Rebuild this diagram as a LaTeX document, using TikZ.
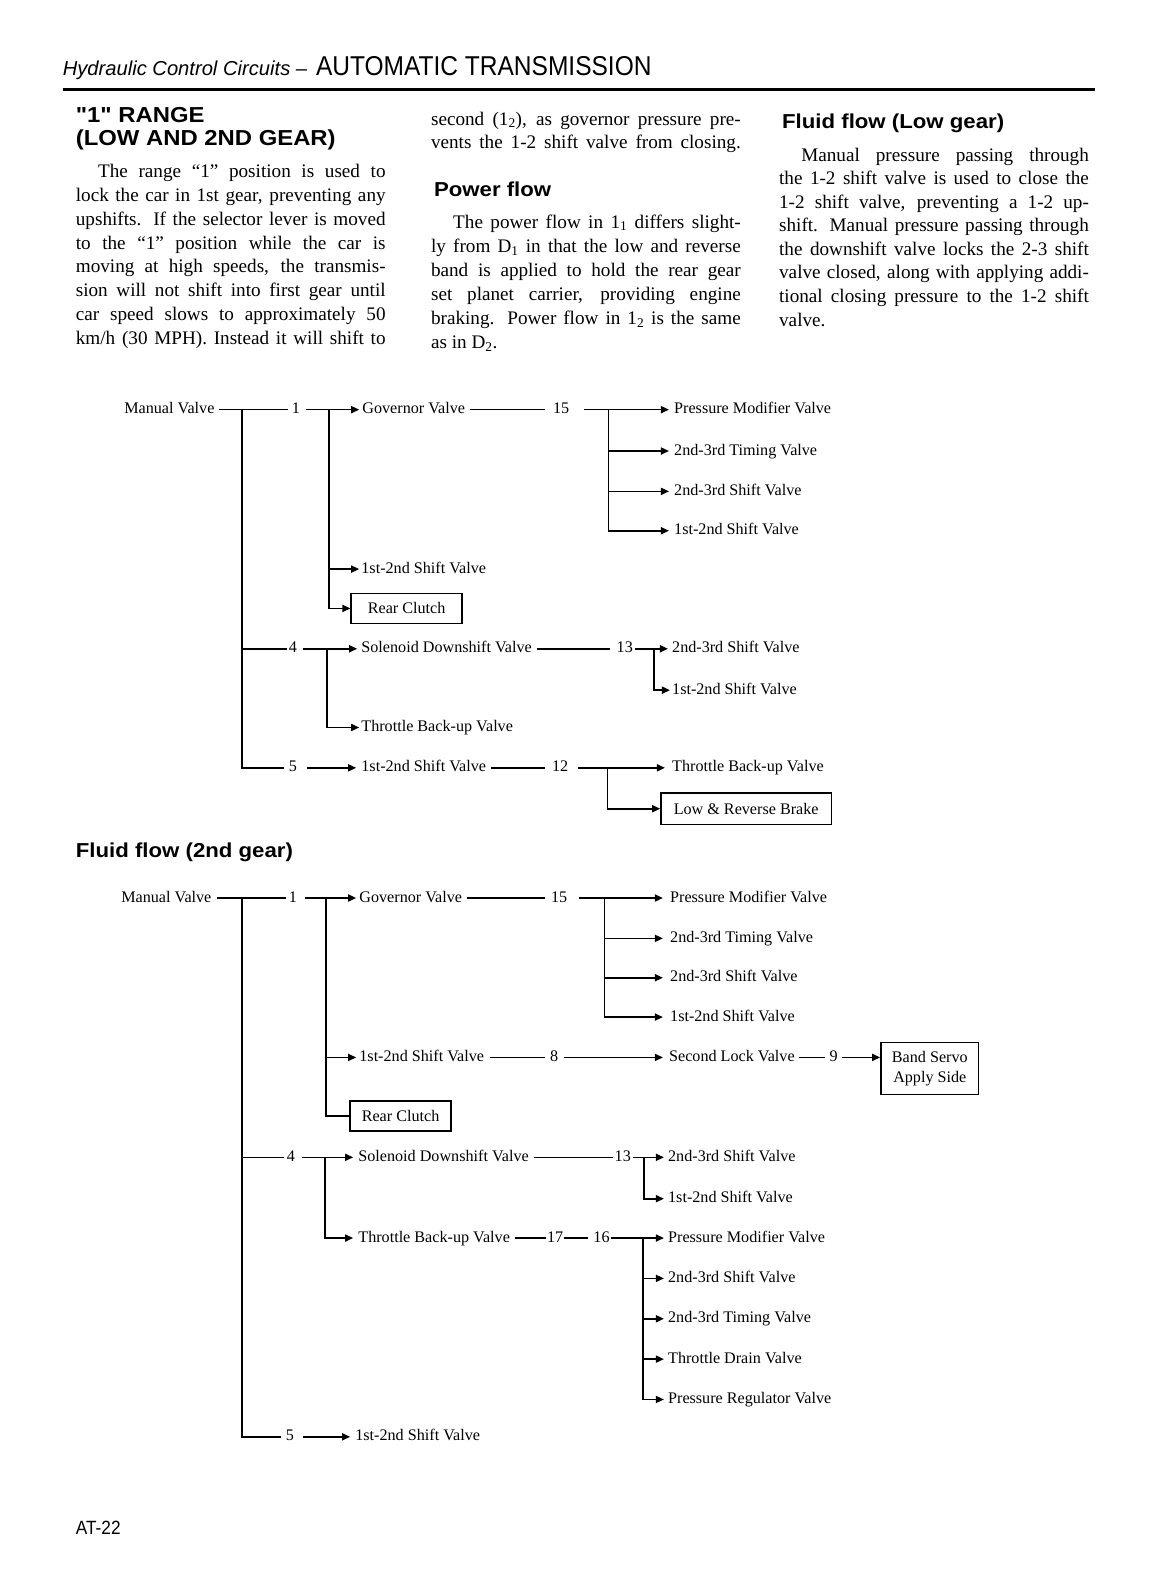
\documentclass[tikz,border=0pt]{standalone}
\usepackage{fontspec}
\setmainfont{Liberation Serif}
\newfontfamily\sansf{Liberation Sans}
\newfontfamily\headf[FakeStretch=1.1]{Liberation Sans}
\newfontfamily\condf[FakeStretch=0.9]{Liberation Sans}
\usetikzlibrary{arrows.meta}
\newcommand\jl[1]{\hbox to 307pt{#1}}
\newcommand\jli[1]{\hbox to 307pt{\hskip22pt #1}}
\newcommand\lastl[1]{\hbox{#1}}
\newcommand\sub[1]{\textsubscript{#1}}
\tikzset{
  dl/.style={font=\fontsize{16}{18}\selectfont, inner sep=0pt, text height=11pt, text depth=3pt, anchor=west},
  ln/.style={line width=1.6pt},
  arr/.style={line width=1.6pt, -{Triangle[length=8pt,width=7pt]}},
  bx/.style={draw, line width=1.4pt, inner sep=3pt, font=\fontsize{16}{19}\selectfont, align=center},
  body/.style={font=\fontsize{19}{23.6}\selectfont, inner sep=0pt, anchor=base west},
  hd/.style={font=\headf\bfseries\fontsize{20}{24}\selectfont, inner sep=0pt, anchor=base west},
}
\begin{document}
\begin{tikzpicture}[x=1pt,y=-1pt]
\useasboundingbox (0,0) rectangle (1155.6,1567.9);
\fill[white] (0,0) rectangle (1155.6,1567.9);

% ---------- page header ----------
\node[inner sep=0pt, anchor=base west, font=\sansf\itshape\fontsize{20}{24}\selectfont] (hdA) at (62,75) {Hydraulic Control Circuits –};
\node[inner sep=0pt, anchor=base west, font=\condf\fontsize{27}{30}\selectfont] (hdB) at (313,75) {AUTOMATIC TRANSMISSION};
\draw[line width=3pt] (62,89) -- (1085,89);

% ---------- column 1 ----------
\node[hd, font=\headf\bfseries\fontsize{21.5}{24}\selectfont] (h1a) at (75,121) {"1" RANGE};
\node[hd, font=\headf\bfseries\fontsize{21.5}{24}\selectfont] (h1b) at (75,144) {(LOW AND 2ND GEAR)};
\node[body] (c1) at (75,176) {\vtop{\fontsize{19}{23.6}\selectfont
\jli{The range “1” position is used to}
\jl{lock the car in 1st gear, preventing any}
\jl{upshifts. If the selector lever is moved}
\jl{to the “1” position while the car is}
\jl{moving at high speeds, the transmis-}
\jl{sion will not shift into first gear until}
\jl{car speed slows to approximately 50}
\jl{km/h (30 MPH). Instead it will shift to}}};

% ---------- column 2 ----------
\node[body] (c2a) at (427,124) {\vtop{\fontsize{19}{23.6}\selectfont
\jl{second (1\sub{2}), as governor pressure pre-}
\jl{vents the 1-2 shift valve from closing.}}};
\node[hd] (h2) at (430,195) {Power flow};
\node[body] (c2b) at (427,226) {\vtop{\fontsize{19}{23.9}\selectfont
\jli{The power flow in 1\sub{1} differs slight-}
\jl{ly from D\sub{1} in that the low and reverse}
\jl{band is applied to hold the rear gear}
\jl{set planet carrier, providing engine}
\jl{braking. Power flow in 1\sub{2} is the same}
\lastl{as in D\sub{2}.}}};

% ---------- column 3 ----------
\node[hd] (h3) at (775,127) {Fluid flow (Low gear)};
\node[body] (c3) at (772,160) {\vtop{\fontsize{19}{23.3}\selectfont
\jli{Manual pressure passing through}
\jl{the 1-2 shift valve is used to close the}
\jl{1-2 shift valve, preventing a 1-2 up-}
\jl{shift. Manual pressure passing through}
\jl{the downshift valve locks the 2-3 shift}
\jl{valve closed, along with applying addi-}
\jl{tional closing pressure to the 1-2 shift}
\lastl{valve.}}};

% =========== Diagram 1 : Low gear ===========
\node[dl] (mv) at (123,406) {Manual Valve};
\node[dl] (n1) at (289,406) {1};
\node[dl] (gv) at (359,406) {Governor Valve};
\node[dl] (n15) at (548,406) {15};
\node[dl] (pmv) at (668,406) {Pressure Modifier Valve};
\node[dl] (ttv) at (668,447) {2nd-3rd Timing Valve};
\node[dl] (ssv) at (668,487) {2nd-3rd Shift Valve};
\node[dl] (fsv) at (668,526) {1st-2nd Shift Valve};
\node[dl] (fsvb) at (358,564) {1st-2nd Shift Valve};
\node[bx, minimum width=110pt, minimum height=30pt] (rc) at (403,603) {Rear Clutch};
\node[dl] (n4) at (286,643) {4};
\node[dl] (sdv) at (358,643) {Solenoid Downshift Valve};
\node[dl] (n13) at (611,643) {13};
\node[dl] (ssvb) at (666,643) {2nd-3rd Shift Valve};
\node[dl] (fsvc) at (666,684) {1st-2nd Shift Valve};
\node[dl] (tbv) at (358,721) {Throttle Back-up Valve};
\node[dl] (n5) at (286,761) {5};
\node[dl] (fsvd) at (358,761) {1st-2nd Shift Valve};
\node[dl] (n12) at (547,761) {12};
\node[dl] (tbvb) at (666,761) {Throttle Back-up Valve};
\node[bx, minimum width=169pt, minimum height=31pt] (lrb) at (739.5,801.5) {Low \& Reverse Brake};

\coordinate (t1) at (240,406);
\coordinate (t2) at (326,406);
\coordinate (t3) at (603,406);
\coordinate (t4) at (324,643);
\coordinate (t5) at (648,643);
\coordinate (t6) at (602,761);

\draw[ln] ([xshift=4pt]mv.east) -- ([xshift=-4pt]n1.west);
\draw[ln] (t1) |- ([xshift=-2pt]n4.west);
\draw[ln] (t1) |- ([xshift=-5pt]n5.west);
\draw[arr] ([xshift=6pt]n1.east) -- ([xshift=-3pt]gv.west);
\draw[arr] (t2) |- ([xshift=-2pt]fsvb.west);
\draw[arr] (t2) |- (rc.west);
\draw[ln] ([xshift=5pt]gv.east) -- ([xshift=-8pt]n15.west);
\draw[arr] ([xshift=14pt]n15.east) -- ([xshift=-5pt]pmv.west);
\draw[arr] (t3) |- ([xshift=-5pt]ttv.west);
\draw[arr] (t3) |- ([xshift=-5pt]ssv.west);
\draw[arr] (t3) |- ([xshift=-5pt]fsv.west);
\draw[arr] ([xshift=6pt]n4.east) -- ([xshift=-4pt]sdv.west);
\draw[arr] (t4) |- ([xshift=-2pt]tbv.west);
\draw[ln] ([xshift=5pt]sdv.east) -- ([xshift=-6pt]n13.west);
\draw[arr] ([xshift=2pt]n13.east) -- ([xshift=-4pt]ssvb.west);
\draw[arr] (t5) |- ([xshift=-2pt]fsvc.west);
\draw[arr] ([xshift=10pt]n5.east) -- ([xshift=-5pt]fsvd.west);
\draw[ln] ([xshift=5pt]fsvd.east) -- ([xshift=-7pt]n12.west);
\draw[arr] ([xshift=9pt]n12.east) -- ([xshift=-7pt]tbvb.west);
\draw[arr] (t6) |- (lrb.west);

% =========== Diagram 2 : 2nd gear ===========
\node[hd] (h4) at (75,850) {Fluid flow (2nd gear)};

\node[dl] (mw) at (120,890) {Manual Valve};
\node[dl] (m1) at (286,890) {1};
\node[dl] (gw) at (356,890) {Governor Valve};
\node[dl] (m15) at (546,890) {15};
\node[dl] (pmw) at (664,890) {Pressure Modifier Valve};
\node[dl] (ttw) at (664,930) {2nd-3rd Timing Valve};
\node[dl] (ssw) at (664,969) {2nd-3rd Shift Valve};
\node[dl] (fsw) at (664,1008) {1st-2nd Shift Valve};
\node[dl] (fswb) at (356,1048) {1st-2nd Shift Valve};
\node[dl] (m8) at (545,1048) {8};
\node[dl] (slv) at (663,1048) {Second Lock Valve};
\node[dl] (m9) at (822,1048) {9};
\node[bx, minimum width=97pt, minimum height=52pt, font=\fontsize{16}{20}\selectfont] (bsa) at (921.5,1059) {Band Servo\\Apply Side};
\node[bx, minimum width=100pt, minimum height=30pt] (rcw) at (397,1106) {Rear Clutch};
\node[dl] (m4) at (284,1147) {4};
\node[dl] (sdw) at (355,1147) {Solenoid Downshift Valve};
\node[dl] (m13) at (609,1147) {13};
\node[dl] (ssw2) at (662,1147) {2nd-3rd Shift Valve};
\node[dl] (fsw2) at (662,1188) {1st-2nd Shift Valve};
\node[dl] (tbw) at (355,1227) {Throttle Back-up Valve};
\node[dl] (m17) at (542,1227) {17};
\node[dl] (m16) at (588,1227) {16};
\node[dl] (pmw2) at (662,1227) {Pressure Modifier Valve};
\node[dl] (ssw3) at (662,1267) {2nd-3rd Shift Valve};
\node[dl] (ttw2) at (662,1307) {2nd-3rd Timing Valve};
\node[dl] (tdv) at (662,1347) {Throttle Drain Valve};
\node[dl] (prv) at (662,1387) {Pressure Regulator Valve};
\node[dl] (m5) at (283,1424) {5};
\node[dl] (fsw3) at (352,1424) {1st-2nd Shift Valve};

\coordinate (u1) at (240,890);
\coordinate (u2) at (323,890);
\coordinate (u3) at (599,890);
\coordinate (u4) at (322,1147);
\coordinate (u5) at (638,1147);
\coordinate (u6) at (637,1227);

\draw[ln] ([xshift=5pt]mw.east) -- ([xshift=-3pt]m1.west);
\draw[ln] (u1) |- ([xshift=-3pt]m4.west);
\draw[ln] (u1) |- ([xshift=-5pt]m5.west);
\draw[arr] ([xshift=8pt]m1.east) -- ([xshift=-3pt]gw.west);
\draw[arr] (u2) |- ([xshift=-3pt]fswb.west);
\draw[ln] (u2) |- (rcw.west);
\draw[ln] ([xshift=5pt]gw.east) -- ([xshift=-6pt]m15.west);
\draw[arr] ([xshift=11pt]m15.east) -- ([xshift=-7pt]pmw.west);
\draw[arr] (u3) |- ([xshift=-7pt]ttw.west);
\draw[arr] (u3) |- ([xshift=-7pt]ssw.west);
\draw[arr] (u3) |- ([xshift=-7pt]fsw.west);
\draw[ln] ([xshift=6pt]fswb.east) -- ([xshift=-5pt]m8.west);
\draw[arr] ([xshift=6pt]m8.east) -- ([xshift=-6pt]slv.west);
\draw[ln] ([xshift=4pt]slv.east) -- ([xshift=-4pt]m9.west);
\draw[arr] ([xshift=4pt]m9.east) -- (m9 -| bsa.west);
\draw[arr] ([xshift=7pt]m4.east) -- ([xshift=-5pt]sdw.west);
\draw[arr] (u4) |- ([xshift=-5pt]tbw.west);
\draw[ln] ([xshift=5pt]sdw.east) -- ([xshift=-1pt]m13.west);
\draw[arr] ([xshift=2pt]m13.east) -- ([xshift=-4pt]ssw2.west);
\draw[arr] (u5) |- ([xshift=-4pt]fsw2.west);
\draw[ln] ([xshift=5pt]tbw.east) -- ([xshift=-1pt]m17.west);
\draw[ln] ([xshift=1pt]m17.east) -- ([xshift=-5pt]m16.west);
\draw[arr] ([xshift=1pt]m16.east) -- ([xshift=-4pt]pmw2.west);
\draw[arr] (u6) |- ([xshift=-4pt]ssw3.west);
\draw[arr] (u6) |- ([xshift=-4pt]ttw2.west);
\draw[arr] (u6) |- ([xshift=-4pt]tdv.west);
\draw[arr] (u6) |- ([xshift=-4pt]prv.west);
\draw[arr] ([xshift=9pt]m5.east) -- ([xshift=-5pt]fsw3.west);

% ---------- footer ----------
\node[inner sep=0pt, anchor=base west, font=\condf\fontsize{19}{22}\selectfont] (ft) at (75,1521) {AT-22};
\end{tikzpicture}
\end{document}
